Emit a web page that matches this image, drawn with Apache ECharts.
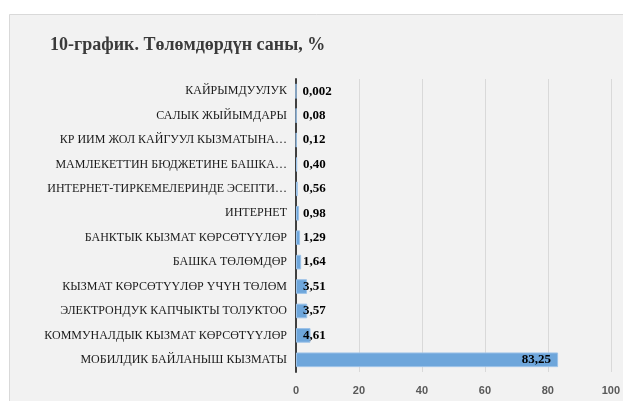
<!DOCTYPE html>
<html>
<head>
<meta charset="utf-8">
<script src="https://cdn.jsdelivr.net/npm/echarts@6/dist/echarts.min.js"></script>
<style>
  html, body { margin: 0; padding: 0; background: #fff; }
  #chart { width: 623px; height: 401px; }
</style>
</head>
<body>
<div id="chart"></div>
<script>
// категориялар жогорудан төмөн карай
const categories = [
  "КАЙРЫМДУУЛУК",
  "САЛЫК ЖЫЙЫМДАРЫ",
  "КР ИИМ ЖОЛ КАЙГУУЛ КЫЗМАТЫНА…",
  "МАМЛЕКЕТТИН БЮДЖЕТИНЕ БАШКА…",
  "ИНТЕРНЕТ-ТИРКЕМЕЛЕРИНДЕ ЭСЕПТИ…",
  "ИНТЕРНЕТ",
  "БАНКТЫК КЫЗМАТ КӨРСӨТҮҮЛӨР",
  "БАШКА ТӨЛӨМДӨР",
  "КЫЗМАТ КӨРСӨТҮҮЛӨР ҮЧҮН ТӨЛӨМ",
  "ЭЛЕКТРОНДУК КАПЧЫКТЫ ТОЛУКТОО",
  "КОММУНАЛДЫК КЫЗМАТ КӨРСӨТҮҮЛӨР",
  "МОБИЛДИК БАЙЛАНЫШ КЫЗМАТЫ"
];
const shares = [0.002, 0.08, 0.12, 0.40, 0.56, 0.98, 1.29, 1.64, 3.51, 3.57, 4.61, 83.25];
const xTicks = [0, 20, 40, 60, 80, 100];

const chart = echarts.init(document.getElementById("chart"));

// сан үтүр менен
const fmt = (v) => v.toFixed(v < 0.01 ? 3 : 2).replace(".", ",");

const option = {
  backgroundColor: "#ffffff",
  animation: false,
  graphic: [
    {
      type: "rect",
      z: -10,
      silent: true,
      shape: { x: 9.5, y: 14.5, width: 700, height: 500 },
      style: { fill: "#f2f2f2", stroke: "#d9d9d9", lineWidth: 1 }
    }
  ],
  title: {
    text: "10-график. Төлөмдөрдүн саны, %",
    left: 45,
    top: 31,
    textStyle: {
      fontFamily: "Liberation Serif",
      fontWeight: "bold",
      fontSize: 18,
      color: "#3a3a3a"
    }
  },
  grid: { left: 296, right: 10, top: 79, bottom: 29, containLabel: false },
  xAxis: {
    type: "value",
    min: xTicks[0],
    max: xTicks[xTicks.length - 1],
    interval: xTicks[1] - xTicks[0],
    axisLine: { show: false },
    axisTick: { show: false },
    splitLine: { lineStyle: { color: "#d9d9d9", width: 1 } },
    axisLabel: {
      margin: 13,
      fontFamily: "Liberation Sans",
      fontWeight: "bold",
      fontSize: 11,
      color: "#595959"
    }
  },
  yAxis: {
    type: "category",
    data: categories,
    inverse: true,
    axisLine: { show: true, lineStyle: { color: "#404040", width: 2 } },
    axisTick: { show: false },
    axisLabel: {
      margin: 9,
      fontFamily: "Liberation Serif",
      fontSize: 12,
      color: "#1a1a1a"
    }
  },
  series: [
    {
      type: "bar",
      data: shares.map((v, i) => ({
        value: v,
        label: i === shares.length - 1
          ? { position: "insideRight", distance: 7 }
          : { position: "insideLeft", distance: 7 }
      })),
      barCategoryGap: "40%",
      itemStyle: { color: "#6ea6db", borderColor: "#9cc2e8", borderWidth: 1 },
      label: {
        show: true,
        formatter: (p) => fmt(p.value),
        fontFamily: "Liberation Serif",
        fontWeight: "bold",
        fontSize: 13,
        color: "#000000"
      }
    }
  ]
};

chart.setOption(option);
window.addEventListener("resize", () => chart.resize());
</script>
</body>
</html>
